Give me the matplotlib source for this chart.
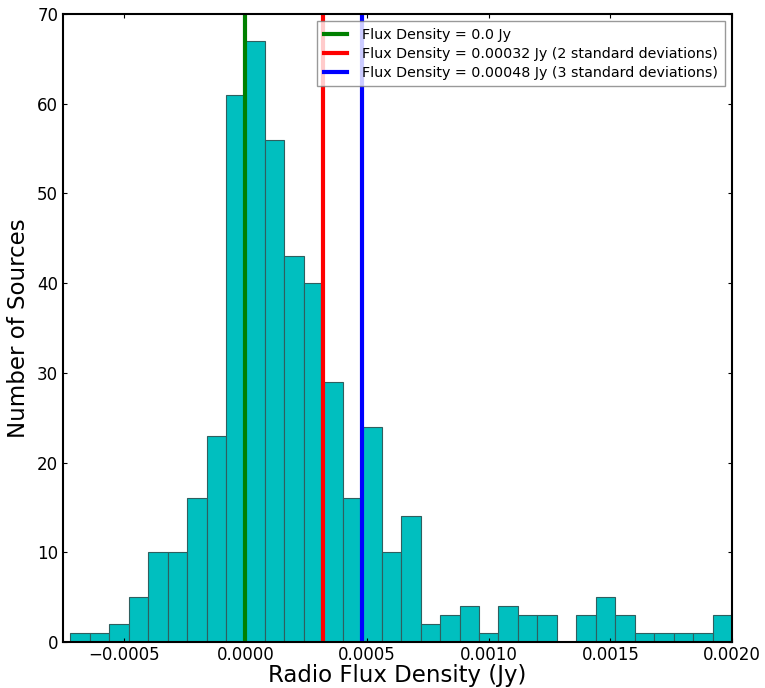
import numpy as np
import matplotlib.pyplot as plt

# histogram of radio flux densities: 34 bins of 0.00008 Jy starting at -0.00072 Jy
bin_start = -0.00072
bin_width = 0.00008
counts = [1, 1, 2, 5, 10, 10, 16, 23, 61, 67, 56, 43, 40, 29, 16, 24, 10, 14,
          2, 3, 4, 1, 4, 3, 3, 0, 3, 5, 3, 1, 1, 1, 1, 3]

line_values = [0.0, 0.00032, 0.00048]
line_labels = ["Flux Density = 0.0 Jy",
               "Flux Density = 0.00032 Jy (2 standard deviations)",
               "Flux Density = 0.00048 Jy (3 standard deviations)"]
line_colors = ["g", "r", "b"]

edges = bin_start + bin_width * np.arange(len(counts) + 1)

fig = plt.figure(figsize=(7.65, 6.88), dpi=100)
ax = fig.add_axes([0.0824, 0.0669, 0.8745, 0.9128])

ax.hist(edges[:-1] + bin_width / 2, bins=edges, weights=counts,
        color=(0, 0.75, 0.75), edgecolor="#2f5f5f", linewidth=0.8)

for v, lab, c in zip(line_values, line_labels, line_colors):
    ax.axvline(v, color=c, linewidth=3, label=lab)

ax.set_xlim(-0.00075, 0.0020)
ax.set_ylim(0, 70)
ax.set_xticks([-0.0005, 0.0, 0.0005, 0.0010, 0.0015, 0.0020])
ax.set_xticklabels(["\u22120.0005", "0.0000", "0.0005", "0.0010", "0.0015", "0.0020"])
ax.tick_params(direction="in", top=True, right=True, labelsize=12, length=3, width=0.8)
ax.tick_params(axis="x", pad=3)
for s in ax.spines.values():
    s.set_linewidth(1.5)

ax.set_xlabel("Radio Flux Density (Jy)", fontsize=16.5, labelpad=0)
ax.set_ylabel("Number of Sources", fontsize=16.5, labelpad=5)

leg = ax.legend(loc="upper right", fontsize=10.3, fancybox=False, borderaxespad=0.5,
                handlelength=1.6, handletextpad=1.1, labelspacing=0.35, borderpad=0.45)
leg.get_frame().set_edgecolor("#808080")

fig.savefig("out.png", dpi=100, facecolor="white")
